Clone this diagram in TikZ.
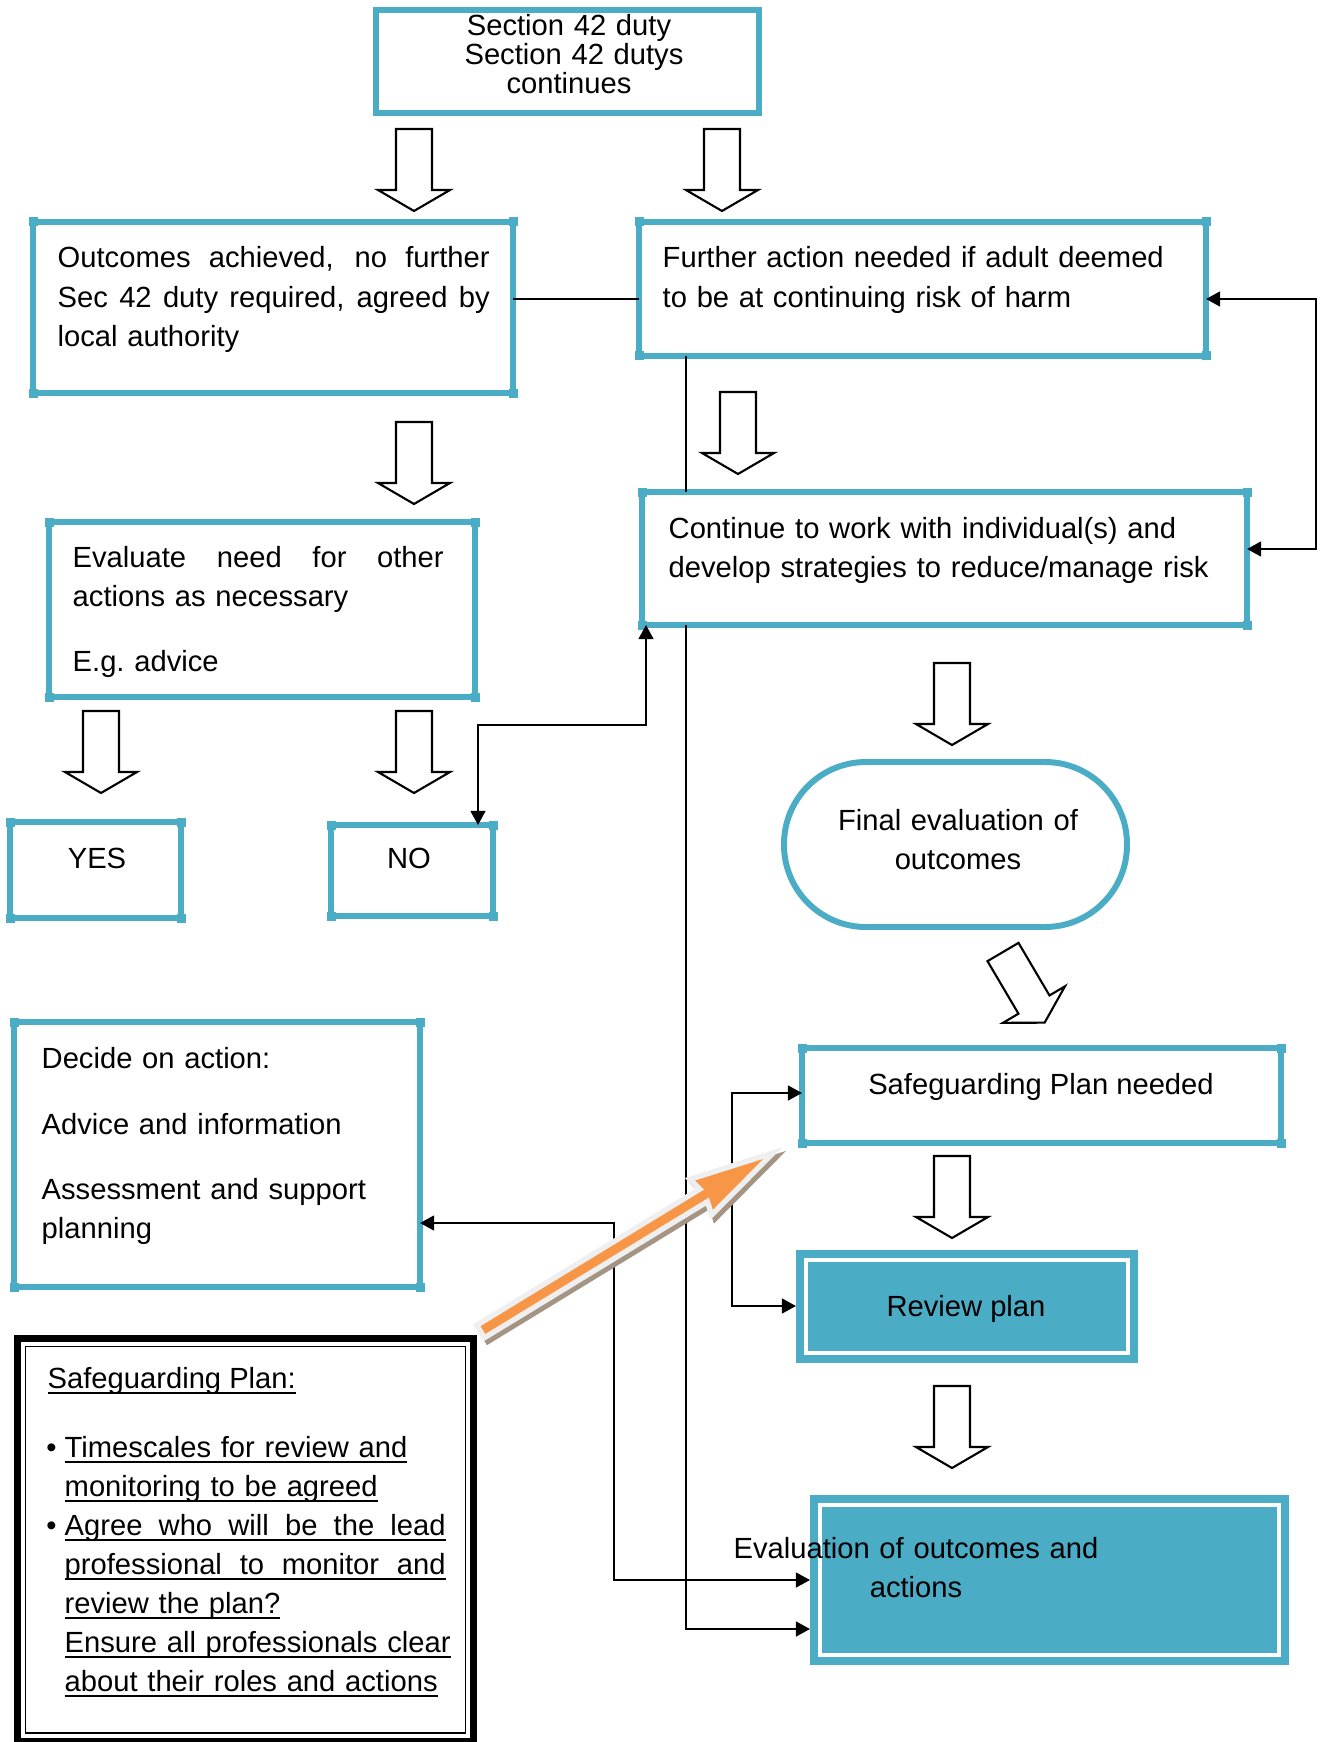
\documentclass[tikz,border=0pt]{standalone}
\usepackage{fontspec}
\setmainfont{Liberation Sans}
\usepackage{tikz}
\usetikzlibrary{arrows.meta,calc}
\definecolor{sgteal}{HTML}{4BACC6}
\definecolor{sgorange}{HTML}{F79646}
\definecolor{sgshadow}{HTML}{A39484}
\definecolor{sgrim}{HTML}{EFEFEF}
\newcommand{\jline}[1]{\makebox[\hsize][s]{\spaceskip=0pt\relax #1}}
\newcommand{\ulin}[1]{\underline{\smash{#1}}}
\newcommand{\ujline}[1]{\underline{\smash{\makebox[\hsize][s]{\spaceskip=0pt\relax #1}}}}
\newcommand{\sgbullet}{\leavevmode\llap{\textbullet\hspace{0.8mm}}}

\begin{document}
\begin{tikzpicture}[x=0.1mm,y=-0.1mm,
    sgbox/.style={draw=sgteal,line width=1.6pt,fill=white,inner sep=0pt,outer sep=0pt,anchor=north west},
    txt/.style={inner sep=0pt,font=\fontsize{8.3}{11.1}\selectfont,align=left},
    link/.style={line width=0.6pt},
    dlink/.style={line width=0.6pt,{Triangle[length=4pt,width=4.2pt]}-{Triangle[length=4pt,width=4.2pt]}},
    slink/.style={line width=0.6pt,-{Triangle[length=4pt,width=4.2pt]}},
    blockarrow/.pic={\draw[line width=0.6pt,fill=white] (-18,0) -- (18,0) -- (18,61) -- (36,61) -- (0,82) -- (-36,61) -- (-18,61) -- cycle;}]
  \useasboundingbox (0,0) rectangle (1327,1742);
  % boxes
  \node[sgbox,line width=1.5pt,minimum width=38.3mm,minimum height=10.3mm] (duty) at (376,10) {};
  \node[sgbox,minimum width=48mm,minimum height=17.1mm] (outc) at (33,222) {};
  \node[sgbox,minimum width=56.7mm,minimum height=13.4mm] (further) at (639,222) {};
  \node[sgbox,minimum width=60.5mm,minimum height=13.3mm] (cont) at (642,492) {};
  \node[sgbox,minimum width=42.6mm,minimum height=17.5mm] (evalneed) at (49,522) {};
  \node[sgbox,minimum width=17.1mm,minimum height=9.6mm] (yes) at (10,822) {};
  \node[sgbox,minimum width=16.2mm,minimum height=9.1mm] (no) at (331,825) {};
  \node[sgbox,line width=1.7pt,rounded corners=8.2mm,minimum width=34.3mm,minimum height=16.5mm] (final) at (784,762) {};
  \node[sgbox,minimum width=47.9mm,minimum height=9.5mm] (sgneed) at (802,1048) {};
  \node[sgbox,minimum width=40.6mm,minimum height=26.5mm] (decide) at (14,1022) {};
  \node[sgbox,draw=none,fill=sgteal,minimum width=34.2mm,minimum height=11.3mm] (review) at (796,1250) {};
  \node[sgbox,draw=none,fill=sgteal,minimum width=47.9mm,minimum height=17mm] (evalout) at (810,1495) {};
  \node[sgbox,draw=black,line width=2pt,minimum width=45.6mm,minimum height=40.25mm] (sgplan) at (17.5,1338.5) {};
  \draw[line width=0.55pt] ([shift={(8,8)}]sgplan.north west) rectangle ([shift={(-8,-8)}]sgplan.south east);
  \foreach \n in {outc,further,cont,evalneed,yes,no,sgneed,decide}
    \foreach \c in {north west,north east,south west,south east}
      \fill[sgteal] (\n.\c) ++(-4.5,-4.5) rectangle ++(9,9);
  \foreach \n in {review,evalout}
    \draw[white,line width=1.1pt] ([shift={(10,10)}]\n.north west) rectangle ([shift={(-10,-10)}]\n.south east);
  % texts
  \node[txt,align=center,text width=38mm,anchor=base,font=\fontsize{8.3}{8.2}\selectfont] (dutyT) at (569,36) {Section 42 duty\\ \hspace*{1mm}Section 42 dutys\\continues};
  \node[txt,text width=43.2mm,anchor=base west] (outcT) at (57,268) {\jline{Outcomes achieved, no further}\\\jline{Sec 42 duty required, agreed by}\\local authority};
  \node[txt,text width=54mm,anchor=base west] (furtherT) at (662,268) {Further action needed if adult deemed\\to be at continuing risk of harm};
  \node[txt,text width=57mm,anchor=base west] (contT) at (668,538) {Continue to work with individual(s) and\\develop strategies to reduce/manage risk};
  \node[txt,text width=37.1mm,anchor=base west] (evalneedT) at (72,567) {\jline{Evaluate need for other}\\actions as necessary\\[2.6mm]E.g.\ advice};
  \node[txt] (yesT) at (97,858) {YES};
  \node[txt] (noT) at (409,858) {NO};
  \node[txt,align=center,text width=32mm,anchor=base] (finalT) at (958,830) {Final evaluation of\\outcomes};
  \node[txt,anchor=base] (sgneedT) at (1041,1094) {Safeguarding Plan needed};
  \node[txt,text width=36mm,anchor=base west] (decideT) at (41,1068) {Decide on action:\\[2.7mm]Advice and information\\[2.6mm]Assessment and support\\planning};
  \node[txt,anchor=base] (reviewT) at (966,1316) {Review plan};
  \node[txt,align=center,text width=45mm,anchor=base] (evaloutT) at (916,1558) {Evaluation of outcomes and\\actions};
  \node[txt,anchor=base west] (sgtitle) at (47,1388) {\ulin{Safeguarding Plan:}};
  \node[txt,text width=38.1mm,anchor=base west] (sglist) at (64,1457) {\sgbullet\ulin{Timescales for review and}\\\ulin{monitoring to be agreed}\\\sgbullet\ujline{Agree who will be the lead}\\\ujline{professional to monitor and}\\\ulin{review the plan?}\\\ulin{Ensure all professionals clear}\\\ulin{about their roles and actions}};
  % connectors
  \coordinate (kA) at (0,299);
  \coordinate (kB) at (686,1629);
  \coordinate (kC) at (1316,549);
  \coordinate (kD) at (646,725);
  \coordinate (kE) at (478,725);
  \coordinate (kF) at (614,1223);
  \coordinate (kG) at (614,1580);
  \coordinate (kH) at (732,1093);
  \coordinate (kI) at (732,1306);
  \draw[link] (outc.east |- kA) -- (further.west |- kA);
  \draw[link] (further.south -| kB) -- (cont.north -| kB);
  \draw[slink] (cont.south -| kB) -- (kB) -- (evalout.west |- kB);
  \draw[dlink] (further.east |- kA) -- (kC |- kA) -- (kC) -- (cont.east |- kC);
  \draw[dlink] (cont.south -| kD) -- (kD) -- (kE) -- (no.north -| kE);
  \draw[dlink] (decide.east |- kF) -- (kF) -- (kG) -- (evalout.west |- kG);
  \draw[dlink] (sgneed.west |- kH) -- (kH) -- (kI) -- (review.west |- kI);
  % block arrows
  \foreach \px/\py in {414/129,722/129,414/422,738/392,101/711,414/711,952/663,952/1156,952/1386}
    \pic at (\px,\py) {blockarrow};
  \pic[shift={(1003,952)},rotate=30.5] {blockarrow};
  % orange arrow
  \begin{scope}[shift={(483,1330)},rotate=31.4]
    \foreach \dx/\dy/\rim/\body in {1/5/sgshadow/sgshadow,0/0/sgrim/sgorange}
      \draw[\rim,fill=\body,line width=1.1mm,shift={(\dx,\dy)}] (0,-4.5) -- (262,-4.5) -- (259,-17) -- (328,0) -- (259,17) -- (262,4.5) -- (0,4.5) -- cycle;
    \fill[sgorange] (0,-4.5) -- (262,-4.5) -- (259,-17) -- (328,0) -- (259,17) -- (262,4.5) -- (0,4.5) -- cycle;
  \end{scope}
\end{tikzpicture}
\end{document}
